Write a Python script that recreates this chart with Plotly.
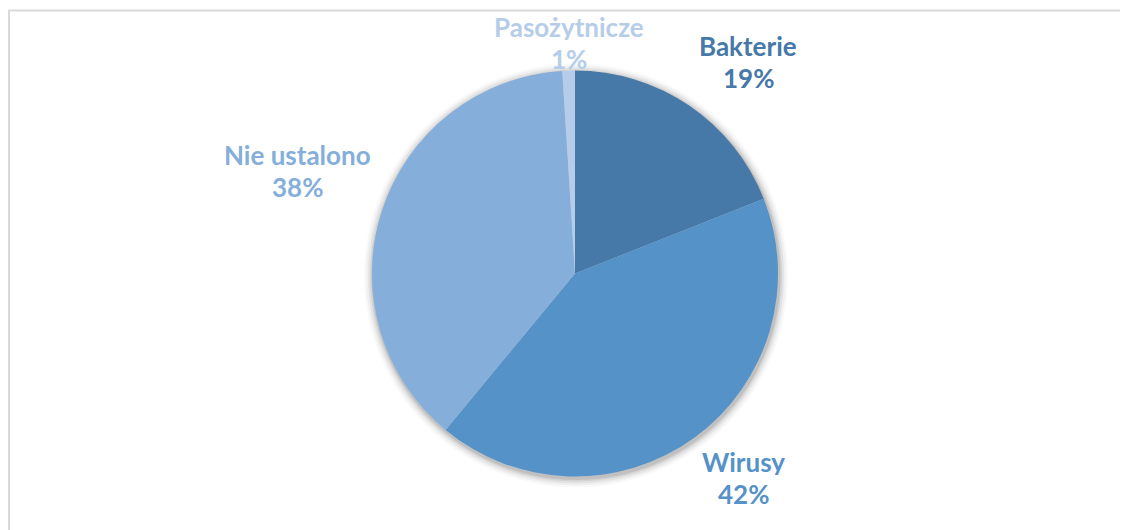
import plotly.graph_objects as go

# ---- data ----
categories = ["Bakterie", "Wirusy", "Nie ustalono", "Pasożytnicze"]
values = [19, 42, 38, 1]
percent_labels = ["19%", "42%", "38%", "1%"]

# ---- styles ----
colors = ["#4678a8", "#5592c8", "#85aedb", "#b6cde9"]
W, H = 1128, 530
OFF = 8  # page body margin offset seen in the screenshot
CX, CY, R = 575 - OFF, 273.5 - OFF, 203  # pie centre / radius in figure pixels
label_centers = [(748 - OFF, 62 - OFF), (743 - OFF, 478 - OFF),
                 (297 - OFF, 171 - OFF), (569 - OFF, 38 - OFF)]
LINE_GAP = 32
MIN_TOP = 19  # keep first text line fully inside the figure
FONT = "Lato"
FONT_SIZE = 26

fig = go.Figure()

fig.add_trace(go.Pie(
    labels=categories,
    values=values,
    sort=False,
    direction="clockwise",
    rotation=0,
    marker=dict(colors=colors, line=dict(width=0)),
    textinfo="none",
    hoverinfo="label+percent",
    showlegend=False,
    domain=dict(x=[(CX - R) / W, (CX + R) / W],
                y=[(H - CY - R) / H, (H - CY + R) / H]),
))

shapes = []
# soft shadow around the pie
for grow, op in [(9, 0.025), (7, 0.035), (5, 0.05), (3, 0.07), (1.5, 0.09)]:
    shapes.append(dict(
        type="circle", xref="paper", yref="paper", layer="below",
        x0=(CX - R - grow + 1) / W, x1=(CX + R + grow + 1) / W,
        y0=(H - CY - R - grow - 2) / H, y1=(H - CY + R + grow - 2) / H,
        fillcolor=f"rgba(0,0,0,{op})", line=dict(width=0),
    ))
# chart area border (cropped on right/bottom)
shapes.append(dict(
    type="rect", xref="paper", yref="paper", layer="above",
    x0=1 / W, x1=(W + 20) / W, y0=-20 / H, y1=(H - 2.5) / H,
    line=dict(color="#d9d9d9", width=2), fillcolor="rgba(0,0,0,0)",
))

annotations = []
for cat, pct, col, (px, py) in zip(categories, percent_labels, colors, label_centers):
    y_name = max(py - LINE_GAP / 2, MIN_TOP)
    y_pct = max(py + LINE_GAP / 2, y_name + LINE_GAP)
    for txt, yy in [(cat, y_name), (pct, y_pct)]:
        annotations.append(dict(
            x=px / W, y=(H - yy) / H, xref="paper", yref="paper",
            text=f"<b>{txt}</b>", height=FONT_SIZE, valign="middle",
            showarrow=False, xanchor="center", yanchor="middle", align="center",
            font=dict(family=FONT, size=FONT_SIZE, color=col),
        ))

fig.update_layout(
    width=W, height=H,
    margin=dict(l=0, r=0, t=0, b=0),
    paper_bgcolor="white",
    plot_bgcolor="white",
    shapes=shapes,
    annotations=annotations,
)

fig.write_html("out.html")
